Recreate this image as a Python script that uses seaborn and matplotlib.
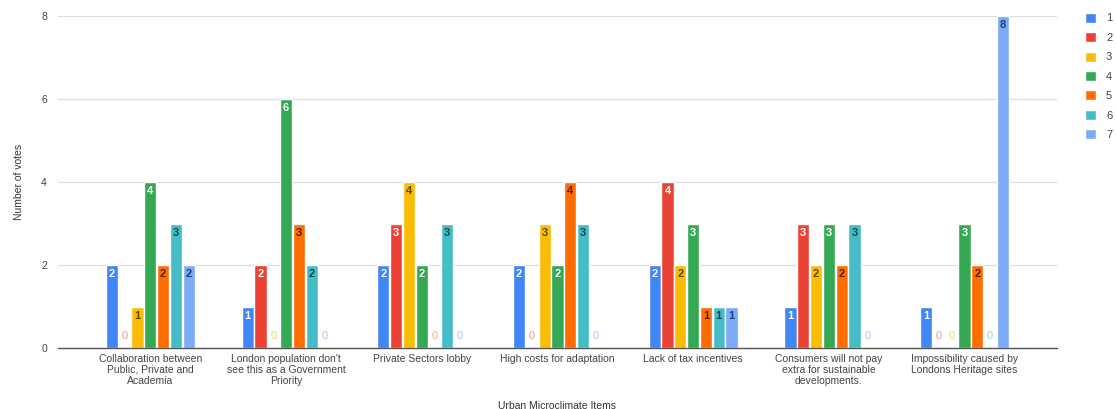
import matplotlib
matplotlib.use("Agg")
import matplotlib.pyplot as plt
import seaborn as sns
import pandas as pd
import numpy as np

categories = [
    "Collaboration between\nPublic, Private and\nAcademia",
    "London population don't\nsee this as a Government\nPriority",
    "Private Sectors lobby",
    "High costs for adaptation",
    "Lack of tax incentives",
    "Consumers will not pay\nextra for sustainable\ndevelopments.",
    "Impossibility caused by\nLondons Heritage sites",
]
series_names = ["1", "2", "3", "4", "5", "6", "7"]
s1 = [2, 1, 2, 2, 2, 1, 1]
s2 = [0, 2, 3, 0, 4, 3, 0]
s3 = [1, 0, 4, 3, 2, 2, 0]
s4 = [4, 6, 2, 2, 3, 3, 3]
s5 = [2, 3, 0, 4, 1, 2, 2]
s6 = [3, 2, 3, 3, 1, 3, 0]
s7 = [2, 0, 0, 0, 1, 0, 8]
y_ticks = [0, 2, 4, 6, 8]

colors = ["#4285F4", "#EA4335", "#FBBC04", "#34A853", "#FF6D01", "#46BDC6", "#7BAAF7"]
label_colors = ["#ffffff", "#ffffff", "#5a4a00", "#ffffff", "#5a2200", "#0d4a50", "#1f3f7a"]
zero_colors = ["#9dbdf7", "#e89a93", "#f3d27a", "#8fcf9f", "#f6ad7f", "#93d6dc", "#a9c6f5"]

all_series = [s1, s2, s3, s4, s5, s6, s7]
rows = []
for name, vals in zip(series_names, all_series):
    for c, v in zip(categories, vals):
        rows.append({"item": c, "series": name, "votes": v})
df = pd.DataFrame(rows)

sns.set_theme(style="white")
plt.rcParams['font.family'] = ['Liberation Sans', 'DejaVu Sans']

fig = plt.figure(figsize=(11.16, 4.09), dpi=100)
ax = fig.add_axes([0.052, 0.149, 0.895, 0.812])

sns.barplot(data=df, x="item", y="votes", hue="series", order=categories,
            hue_order=series_names, palette=colors, width=0.66, gap=0.05,
            saturation=1, ax=ax, legend=True)

for i, cont in enumerate(ax.containers):
    for p in cont.patches:
        h = p.get_height()
        xc = p.get_x() + p.get_width() / 2
        if h > 0:
            ax.text(xc, h - 0.1, f"{int(round(h))}", ha="center", va="top",
                    fontsize=8, fontweight="bold", color=label_colors[i])
        else:
            ax.text(xc, 0.18, "0", ha="center", va="bottom",
                    fontsize=8, color=zero_colors[i])

ax.set_ylim(0, 8)
ax.set_yticks(y_ticks)
ax.set_xlim(-0.68, 6.68)
ax.yaxis.grid(True, color="#dddddd", linewidth=0.9)
ax.set_axisbelow(True)
for s in ["top", "right", "left"]:
    ax.spines[s].set_visible(False)
ax.spines["bottom"].set_color("#555555")
ax.spines["bottom"].set_linewidth(1.0)
ax.tick_params(axis="both", length=0, labelsize=7.5, colors="#444444", pad=4)
ax.tick_params(axis="y", pad=8)
ax.set_xlabel("Urban Microclimate Items", fontsize=7.5, color="#333333", labelpad=11)
ax.set_ylabel("Number of votes", fontsize=7.5, color="#333333", labelpad=12)
for lbl in ax.get_xticklabels():
    lbl.set_linespacing(1.12)

leg = ax.legend(loc="upper left", bbox_to_anchor=(1.018, 1.04), frameon=False,
                fontsize=8, handlelength=1.0, handleheight=1.0, labelspacing=0.78,
                handletextpad=0.9, title=None)
for t in leg.get_texts():
    t.set_color("#444444")

fig.savefig("out.png", dpi=100)
